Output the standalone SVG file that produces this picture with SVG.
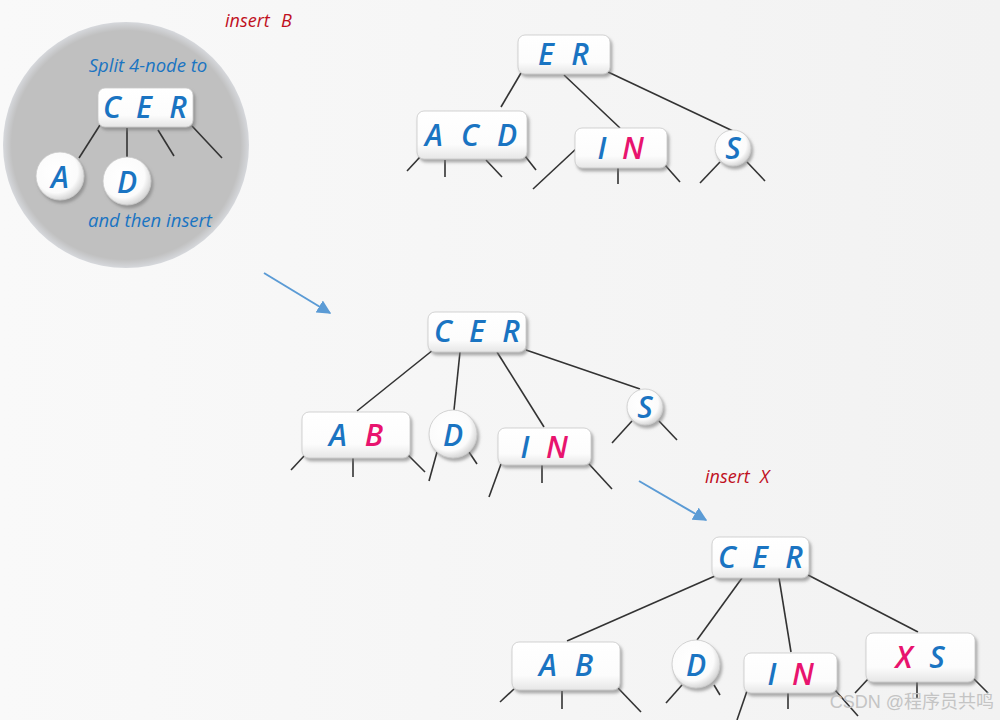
<svg xmlns="http://www.w3.org/2000/svg" width="1000" height="720" viewBox="0 0 1000 720">
<defs>
<linearGradient id="bg" x1="0" y1="0" x2="1" y2="0"><stop offset="0" stop-color="#f9f9f9"/><stop offset="1" stop-color="#f2f2f2"/></linearGradient>
<linearGradient id="nodeFill" x1="0" y1="0" x2="0" y2="1"><stop offset="0" stop-color="#ffffff"/><stop offset="0.7" stop-color="#fcfcfc"/><stop offset="1" stop-color="#e6e6e6"/></linearGradient>
<radialGradient id="circFill" cx="0.42" cy="0.4" r="0.6"><stop offset="0" stop-color="#ffffff"/><stop offset="0.75" stop-color="#fbfbfb"/><stop offset="1" stop-color="#d8d8d8"/></radialGradient>
<radialGradient id="inset" cx="0.5" cy="0.5" r="0.5"><stop offset="0.93" stop-color="#c0c0c0"/><stop offset="1" stop-color="#d6d8dc"/></radialGradient>
<filter id="sh" x="-20%" y="-20%" width="150%" height="160%"><feDropShadow dx="2" dy="3" stdDeviation="1.5" flood-color="#777" flood-opacity="0.6"/></filter>
<marker id="ah" viewBox="0 0 10 10" refX="9" refY="5" markerWidth="7" markerHeight="7" orient="auto"><path d="M0,0 L10,5 L0,10 z" fill="#5b9bd5"/></marker>
<style>
.n{fill:url(#nodeFill);stroke:#c8c8c8;stroke-width:0.8;filter:url(#sh)}
.c{fill:url(#circFill);stroke:#c8c8c8;stroke-width:0.8;filter:url(#sh)}
.k{font-family:"Open Sans","Liberation Sans",sans-serif;font-style:italic;font-weight:600;font-size:30px;fill:#1a74c2;text-anchor:middle}
.p{fill:#e8146e}
.e{stroke:#333;stroke-width:1.6;fill:none}
.lbl{font-family:"Open Sans","Liberation Sans",sans-serif;font-style:italic;font-size:18px;fill:#c0101e}
.it{font-family:"Open Sans","Liberation Sans",sans-serif;font-style:italic;font-size:18.5px;fill:#1a74c2;text-anchor:middle}
.ar{stroke:#5b9bd5;stroke-width:2;fill:none;marker-end:url(#ah)}
</style>
</defs>
<rect width="1000" height="720" fill="url(#bg)"/>

<g id="inset-panel">
<circle cx="126" cy="145" r="123" fill="url(#inset)"/>
<text class="it" x="148" y="72">Split 4-node to</text>
<text class="it" x="150" y="227">and then insert</text>
</g>

<g id="edges">
<!-- inset -->
<line class="e" x1="100" y1="125" x2="79" y2="158"/>
<line class="e" x1="127" y1="128" x2="127" y2="157"/>
<line class="e" x1="158" y1="130" x2="174" y2="156"/>
<line class="e" x1="192" y1="126" x2="222" y2="158"/>
<!-- top tree -->
<line class="e" x1="521" y1="73" x2="501" y2="107"/>
<line class="e" x1="564" y1="75" x2="620" y2="128"/>
<line class="e" x1="608" y1="72" x2="733" y2="131"/>
<line class="e" x1="420" y1="157" x2="407" y2="171"/>
<line class="e" x1="445" y1="160" x2="445" y2="177"/>
<line class="e" x1="486" y1="160" x2="502" y2="177"/>
<line class="e" x1="525" y1="156" x2="536" y2="170"/>
<line class="e" x1="577" y1="148" x2="533" y2="189"/>
<line class="e" x1="618" y1="168" x2="618" y2="184"/>
<line class="e" x1="665" y1="165" x2="680" y2="182"/>
<line class="e" x1="720" y1="162" x2="700" y2="183"/>
<line class="e" x1="747" y1="162" x2="765" y2="181"/>
<!-- middle tree -->
<line class="e" x1="433" y1="350" x2="357" y2="411"/>
<line class="e" x1="460" y1="352" x2="454" y2="410"/>
<line class="e" x1="497" y1="352" x2="544" y2="427"/>
<line class="e" x1="526" y1="350" x2="640" y2="389"/>
<line class="e" x1="305" y1="455" x2="291" y2="470"/>
<line class="e" x1="353" y1="458" x2="353" y2="477"/>
<line class="e" x1="408" y1="455" x2="425" y2="472"/>
<line class="e" x1="437" y1="452" x2="429" y2="481"/>
<line class="e" x1="469" y1="452" x2="477" y2="464"/>
<line class="e" x1="501" y1="464" x2="489" y2="497"/>
<line class="e" x1="542" y1="465" x2="542" y2="483"/>
<line class="e" x1="589" y1="464" x2="612" y2="489"/>
<line class="e" x1="632" y1="421" x2="612" y2="443"/>
<line class="e" x1="659" y1="421" x2="677" y2="440"/>
<!-- bottom tree -->
<line class="e" x1="715" y1="576" x2="567" y2="641"/>
<line class="e" x1="742" y1="578" x2="697" y2="640"/>
<line class="e" x1="779" y1="578" x2="791" y2="652"/>
<line class="e" x1="808" y1="575" x2="918" y2="632"/>
<line class="e" x1="514" y1="689" x2="500" y2="702"/>
<line class="e" x1="562" y1="691" x2="562" y2="709"/>
<line class="e" x1="618" y1="688" x2="641" y2="712"/>
<line class="e" x1="682" y1="685" x2="666" y2="703"/>
<line class="e" x1="714" y1="685" x2="720" y2="695"/>
<line class="e" x1="747" y1="691" x2="737" y2="720"/>
<line class="e" x1="788" y1="693" x2="788" y2="709"/>
<line class="e" x1="835" y1="690" x2="858" y2="716"/>
<line class="e" x1="869" y1="678" x2="855" y2="693"/>
<line class="e" x1="917" y1="682" x2="917" y2="698"/>
<line class="e" x1="973" y1="678" x2="988" y2="693"/>
<!-- arrows -->
<line class="ar" x1="264" y1="273" x2="330" y2="313"/>
<line class="ar" x1="639" y1="481" x2="706" y2="520"/>
</g>

<g id="inset-CER"><rect class="n" x="98" y="88" width="95" height="39" rx="7"/><text class="k" x="112" y="118">C</text><text class="k" x="144" y="118">E</text><text class="k" x="178" y="118">R</text></g>
<g id="inset-A"><circle class="c" cx="60" cy="176" r="24"/><text class="k" x="60" y="188">A</text></g>
<g id="inset-D"><circle class="c" cx="127" cy="181" r="24"/><text class="k" x="127" y="193">D</text></g>

<g id="lbl-insertB"><text class="lbl" x="225" y="27">insert<tspan x="281">B</tspan></text></g>

<g id="t1-ER"><rect class="n" x="518" y="35" width="92" height="39" rx="7"/><text class="k" x="546" y="65">E</text><text class="k" x="580" y="65">R</text></g>
<g id="t1-ACD"><rect class="n" x="417" y="111" width="110" height="48" rx="7"/><text class="k" x="434" y="146">A</text><text class="k" x="470" y="146">C</text><text class="k" x="507" y="146">D</text></g>
<g id="t1-IN"><rect class="n" x="575" y="128" width="92" height="40" rx="7"/><text class="k" x="602" y="159">I</text><text class="k p" x="633" y="159">N</text></g>
<g id="t1-S"><circle class="c" cx="733" cy="148" r="18"/><text class="k" x="733" y="159">S</text></g>

<g id="t2-CER"><rect class="n" x="428" y="312" width="98" height="40" rx="7"/><text class="k" x="443" y="342">C</text><text class="k" x="477" y="342">E</text><text class="k" x="511" y="342">R</text></g>
<g id="t2-AB"><rect class="n" x="302" y="412" width="108" height="46" rx="7"/><text class="k" x="338" y="446">A</text><text class="k p" x="374" y="446">B</text></g>
<g id="t2-D"><circle class="c" cx="453" cy="434" r="24"/><text class="k" x="453" y="446">D</text></g>
<g id="t2-IN"><rect class="n" x="498" y="428" width="93" height="37" rx="7"/><text class="k" x="525" y="458">I</text><text class="k p" x="557" y="458">N</text></g>
<g id="t2-S"><circle class="c" cx="645" cy="407" r="18"/><text class="k" x="645" y="418">S</text></g>

<g id="lbl-insertX"><text class="lbl" x="705" y="483">insert<tspan x="760">X</tspan></text></g>

<g id="t3-CER"><rect class="n" x="712" y="537" width="97" height="41" rx="7"/><text class="k" x="727" y="568">C</text><text class="k" x="760" y="568">E</text><text class="k" x="794" y="568">R</text></g>
<g id="t3-AB"><rect class="n" x="512" y="642" width="108" height="48" rx="7"/><text class="k" x="548" y="676">A</text><text class="k" x="584" y="676">B</text></g>
<g id="t3-D"><circle class="c" cx="696" cy="664" r="24"/><text class="k" x="696" y="676">D</text></g>
<g id="t3-IN"><rect class="n" x="744" y="653" width="93" height="40" rx="7"/><text class="k" x="772" y="685">I</text><text class="k p" x="803" y="685">N</text></g>
<g id="t3-XS"><rect class="n" x="866" y="633" width="109" height="49" rx="7"/><text class="k p" x="904" y="668">X</text><text class="k" x="937" y="668">S</text></g>

<g id="watermark"><text x="994" y="708" text-anchor="end" font-family="'Liberation Sans','Noto Sans CJK SC',sans-serif" font-size="18" fill="#c4c4c4">CSDN @程序员共鸣</text></g>
</svg>
